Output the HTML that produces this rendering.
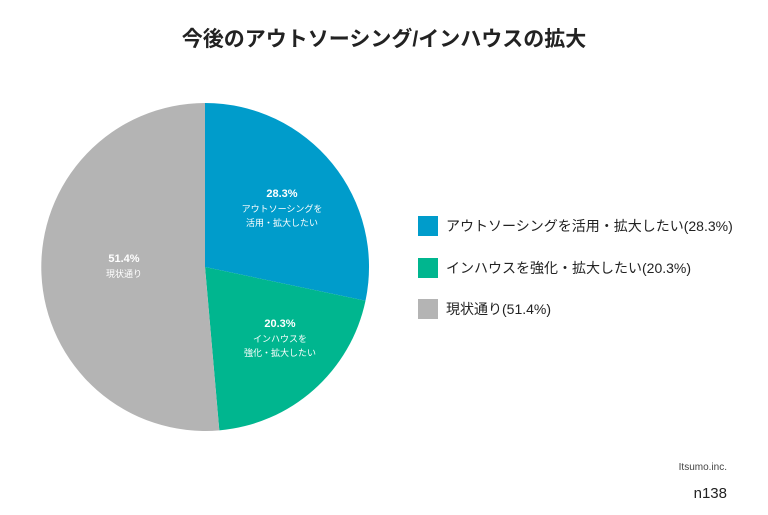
<!DOCTYPE html>
<html><head><meta charset="utf-8"><style>
html,body{margin:0;padding:0;background:#fff;}
body{width:768px;height:510px;overflow:hidden;}
svg text{font-family:"Liberation Sans","Noto Sans CJK JP",sans-serif;}
</style></head><body>
<svg width="768" height="510" viewBox="0 0 768 510" xmlns="http://www.w3.org/2000/svg">
<text x="384" y="46" text-anchor="middle" font-size="21" font-weight="bold" fill="#222">今後のアウトソーシング/インハウスの拡大</text>
<path d="M205,267 L205,103 A164,164 0 0 1 365.5,300.8 Z" fill="#009ccb"/>
<path d="M205,267 L365.5,300.8 A164,164 0 0 1 219.3,430.4 Z" fill="#00b68f"/>
<path d="M205,267 L219.3,430.4 A164,164 0 1 1 205,103 Z" fill="#b4b4b4"/>
<g fill="#fff" text-anchor="middle">
<text x="282" y="197" font-size="11" font-weight="bold">28.3%</text>
<text x="282" y="212" font-size="9">アウトソーシングを</text>
<text x="282" y="226" font-size="9">活用・拡大したい</text>
<text x="280" y="327" font-size="11" font-weight="bold">20.3%</text>
<text x="280" y="342" font-size="9">インハウスを</text>
<text x="280" y="356" font-size="9">強化・拡大したい</text>
<text x="124" y="262" font-size="11" font-weight="bold">51.4%</text>
<text x="124" y="277" font-size="9">現状通り</text>
</g>
<rect x="418" y="216" width="20" height="20" fill="#009ccb"/>
<rect x="418" y="258" width="20" height="20" fill="#00b68f"/>
<rect x="418" y="299" width="20" height="20" fill="#b4b4b4"/>
<g font-size="14" fill="#222">
<text x="446" y="231">アウトソーシングを活用・拡大したい(28.3%)</text>
<text x="446" y="273">インハウスを強化・拡大したい(20.3%)</text>
<text x="446" y="314">現状通り(51.4%)</text>
</g>
<text x="727" y="470" font-size="10" fill="#444" text-anchor="end">Itsumo.inc.</text>
<text x="727" y="498" font-size="15" fill="#222" text-anchor="end">n138</text>
</svg>
</body></html>
